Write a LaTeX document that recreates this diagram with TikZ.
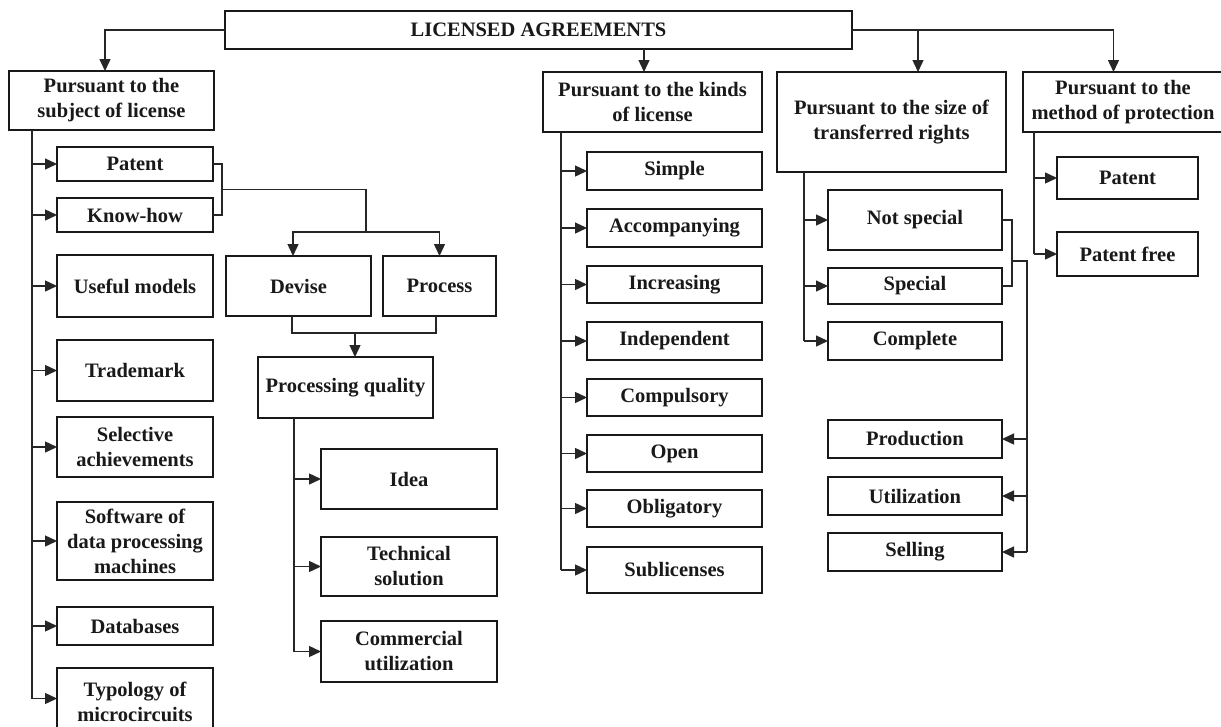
\documentclass[tikz,border=0pt]{standalone}
\usepackage{fontspec}
\setmainfont{Liberation Serif}
\usetikzlibrary{arrows.meta,calc}
\newcommand\mybox[6]{\node[box, minimum width={#4-#2}, minimum height={#5-#3}] (#1) at ({(#2+#4)/2},{(#3+#5)/2}) {#6};}
\begin{document}
\begin{tikzpicture}[x=1pt,y=-1pt,
 box/.style={draw=black!90, line width=2.2pt, inner sep=1pt, outer sep=0pt, align=center, font=\fontsize{20.5}{25}\selectfont\bfseries, text=black!90},
 conn/.style={line width=1.4pt, draw=black!85},
 arr/.style={conn, -{Triangle[length=12pt,width=11pt]}}]
\clip (0,0) rectangle (1221,726);
\fill[white] (0,0) rectangle (1221,726);

% main boxes
\mybox{T}{225}{11}{852}{49}{LICENSED AGREEMENTS}
\mybox{S1}{9}{71}{214}{130}{Pursuant to the\\subject of license}
\mybox{K}{543}{72}{762}{132}{Pursuant to the kinds\\of license}
\mybox{Sz}{777}{72}{1006}{172}{Pursuant to the size of\\transferred rights}
\mybox{M}{1023}{72}{1223}{132}{Pursuant to the\\method of protection}

% subject children
\mybox{a1}{57}{147}{213}{181}{Patent}
\mybox{a2}{57}{198}{213}{232}{Know-how}
\mybox{a3}{57}{255}{213}{317}{Useful models}
\mybox{a4}{57}{340}{213}{401}{Trademark}
\mybox{a5}{57}{417}{213}{477}{Selective\\achievements}
\mybox{a6}{57}{502}{213}{580}{Software of\\data processing\\machines}
\mybox{a7}{57}{607}{213}{645}{Databases}
\mybox{a8}{57}{668}{213}{735}{Typology of\\microcircuits}

% devise / process
\mybox{dv}{226}{256}{371}{316}{Devise}
\mybox{pr}{383}{256}{496}{316}{Process}
\mybox{pq}{258}{357}{433}{418}{Processing quality}
\mybox{b1}{321}{449}{497}{509}{Idea}
\mybox{b2}{321}{537}{497}{596}{Technical\\solution}
\mybox{b3}{321}{621}{497}{682}{Commercial\\utilization}

% kinds
\mybox{c1}{587}{152}{762}{190}{Simple}
\mybox{c2}{587}{209}{762}{247}{Accompanying}
\mybox{c3}{587}{266}{762}{303}{Increasing}
\mybox{c4}{587}{322}{762}{360}{Independent}
\mybox{c5}{587}{379}{762}{416}{Compulsory}
\mybox{c6}{587}{435}{762}{472}{Open}
\mybox{c7}{587}{490}{762}{527}{Obligatory}
\mybox{c8}{587}{547}{762}{593}{Sublicenses}

% size
\mybox{d1}{828}{190}{1002}{250}{Not special}
\mybox{d2}{828}{268}{1002}{304}{Special}
\mybox{d3}{828}{322}{1002}{360}{Complete}
\mybox{e1}{828}{420}{1002}{458}{Production}
\mybox{e2}{828}{477}{1002}{515}{Utilization}
\mybox{e3}{828}{533}{1002}{571}{Selling}

% method
\mybox{f1}{1057}{157}{1198}{199}{Patent}
\mybox{f2}{1057}{232}{1198}{276}{Patent free}

% top connectors
\draw[arr] (T.west) -| ([xshift=-6.5pt]S1.north);
\draw[arr] ([xshift=-8.5pt]K.north |- T.south) -- ([xshift=-8.5pt]K.north);
\draw[conn] (T.east) -- ([xshift=-9.5pt]M.north |- T.east);
\draw[arr] ([xshift=-9.5pt]M.north |- T.east) -- ([xshift=-9.5pt]M.north);
\draw[arr] ([xshift=26.5pt]Sz.north |- T.east) -- ([xshift=26.5pt]Sz.north);

% subject tree
\coordinate (v1) at ([xshift=23pt]S1.south west);
\draw[conn] (v1) -- ([yshift=3pt]v1 |- a8.west);
\foreach \n in {a1,a2,a3,a4,a5,a6,a7} \draw[arr] (v1 |- \n.west) -- (\n.west);
\draw[arr] ([yshift=3pt]v1 |- a8.west) -- ([yshift=3pt]a8.west);

% patent / know-how bracket
\coordinate (j1) at ([xshift=9pt]$(a1.east)!0.5!(a2.east)$);
\draw[conn] (a1.east) -| (j1) |- (a2.east);
\coordinate (sp) at (366,232);
\draw[conn] (j1) -| (sp);
\draw[arr] (sp) -| ([xshift=-5.5pt]dv.north);
\draw[arr] (sp) -| (pr.north);
\coordinate (j2) at (355,333);
\draw[conn] ([xshift=-6.5pt]dv.south) |- ([xshift=-3.5pt]pr.south |- j2) -- ([xshift=-3.5pt]pr.south);
\draw[arr] (j2) -- (j2 |- pq.north);
\coordinate (v2) at ([xshift=36pt]pq.south west);
\draw[conn] (v2) -- (v2 |- b3.west);
\foreach \n in {b1,b2,b3} \draw[arr] (v2 |- \n.west) -- (\n.west);

% kinds tree
\coordinate (v3) at ([xshift=18pt]K.south west);
\draw[conn] (v3) -- (v3 |- c8.west);
\foreach \n in {c1,c2,c3,c4,c5,c6,c7,c8} \draw[arr] (v3 |- \n.west) -- (\n.west);

% size tree
\coordinate (v4) at ([xshift=27pt]Sz.south west);
\draw[conn] (v4) -- (v4 |- d3.west);
\foreach \n in {d1,d2,d3} \draw[arr] (v4 |- \n.west) -- (\n.west);
\coordinate (j3) at (1012,261);
\coordinate (rv) at (1027,261);
\draw[conn] (d1.east) -| (j3);
\draw[conn] (d2.east) -| (j3);
\draw[conn] (j3) -- (rv) -- (rv |- e3.east);
\foreach \n in {e1,e2,e3} \draw[arr] (rv |- \n.east) -- (\n.east);

% method tree
\coordinate (v5) at ([xshift=11pt]M.south west);
\draw[conn] (v5) -- (v5 |- f2.west);
\foreach \n in {f1,f2} \draw[arr] (v5 |- \n.west) -- (\n.west);
\end{tikzpicture}
\end{document}
